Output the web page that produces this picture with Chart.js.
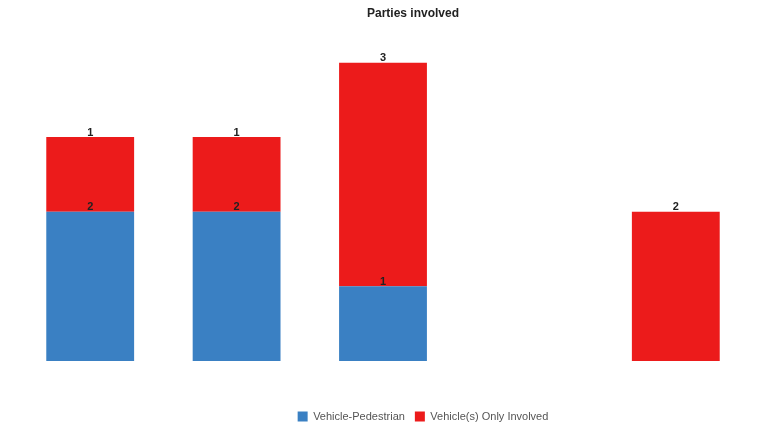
<!DOCTYPE html>
<html>
<head>
<meta charset="utf-8">
<script src="https://cdn.jsdelivr.net/npm/chart.js@4"></script>
<style>
  html, body { margin: 0; padding: 0; background: #fff; }
  #wrap { width: 761px; height: 428px; }
</style>
</head>
<body>
<div id="wrap"><canvas id="grafico"></canvas></div>
<script>
// categorías (no se leen en la imagen, el eje va oculto)
const categorias = ['Grupo 1', 'Grupo 2', 'Grupo 3', 'Grupo 4', 'Grupo 5'];
const peatones = [2, 2, 1, 0, 0];
const soloVehiculos = [1, 1, 3, 0, 2];

const COLOR_AZUL = '#3a80c3';
const COLOR_ROJO = '#ec1b1b';

// dibuja el valor arriba de cada segmento (sin plugin externo)
const etiquetasValores = {
    id: 'etiquetasValores',
    afterDatasetsDraw(chart) {
        const ctx = chart.ctx;
        ctx.save();
        ctx.font = 'bold 11px "Liberation Sans", Arial, sans-serif';
        ctx.fillStyle = '#222';
        ctx.textAlign = 'center';
        ctx.textBaseline = 'bottom';
        chart.data.datasets.forEach((ds, i) => {
            chart.getDatasetMeta(i).data.forEach((barra, j) => {
                let v = ds.data[j];
                if (!v) return;
                ctx.fillText(String(v), barra.x, barra.y + 1);
            });
        });
        ctx.restore();
    }
};

// en el original título y leyenda quedan corridos a la derecha
const correrCajas = {
    id: 'correrCajas',
    afterLayout(chart) {
        let t = chart.titleBlock, l = chart.legend;
        if (t) { t.left += 30; t.right += 30; }
        if (l) { l.left += 40; l.right += 40; l.top += 6; l.bottom += 6; }
    }
};

new Chart(document.getElementById('grafico'), {
    type: 'bar',
    data: {
        labels: categorias,
        datasets: [
            { label: 'Vehicle-Pedestrian', data: peatones, backgroundColor: COLOR_AZUL },
            { label: 'Vehicle(s) Only Involved', data: soloVehiculos, backgroundColor: COLOR_ROJO }
        ]
    },
    options: {
        responsive: true,
        maintainAspectRatio: false,
        animation: false,
        layout: { padding: { left: 17, right: 12, bottom: 2 } },
        datasets: { bar: { categoryPercentage: 1, barPercentage: 0.6 } },
        scales: {
            x: {
                stacked: true,
                grid: { display: false },
                border: { display: false },
                ticks: { color: 'rgba(255,255,255,0)' },
                afterFit: (s) => { s.height = 34; }
            },
            y: { stacked: true, display: false, min: 0, max: 4 }
        },
        plugins: {
            title: {
                display: true,
                text: 'Parties involved',
                color: '#222',
                font: { family: '"Liberation Sans", Arial, sans-serif', size: 12, weight: 'bold' },
                padding: { top: 6, bottom: 42 }
            },
            legend: {
                position: 'bottom',
                labels: {
                    boxWidth: 10, boxHeight: 10,
                    color: '#555',
                    font: { family: '"Liberation Sans", Arial, sans-serif', size: 11 }
                }
            },
            tooltip: { enabled: false }
        }
    },
    plugins: [etiquetasValores, correrCajas]
});
</script>
</body>
</html>
